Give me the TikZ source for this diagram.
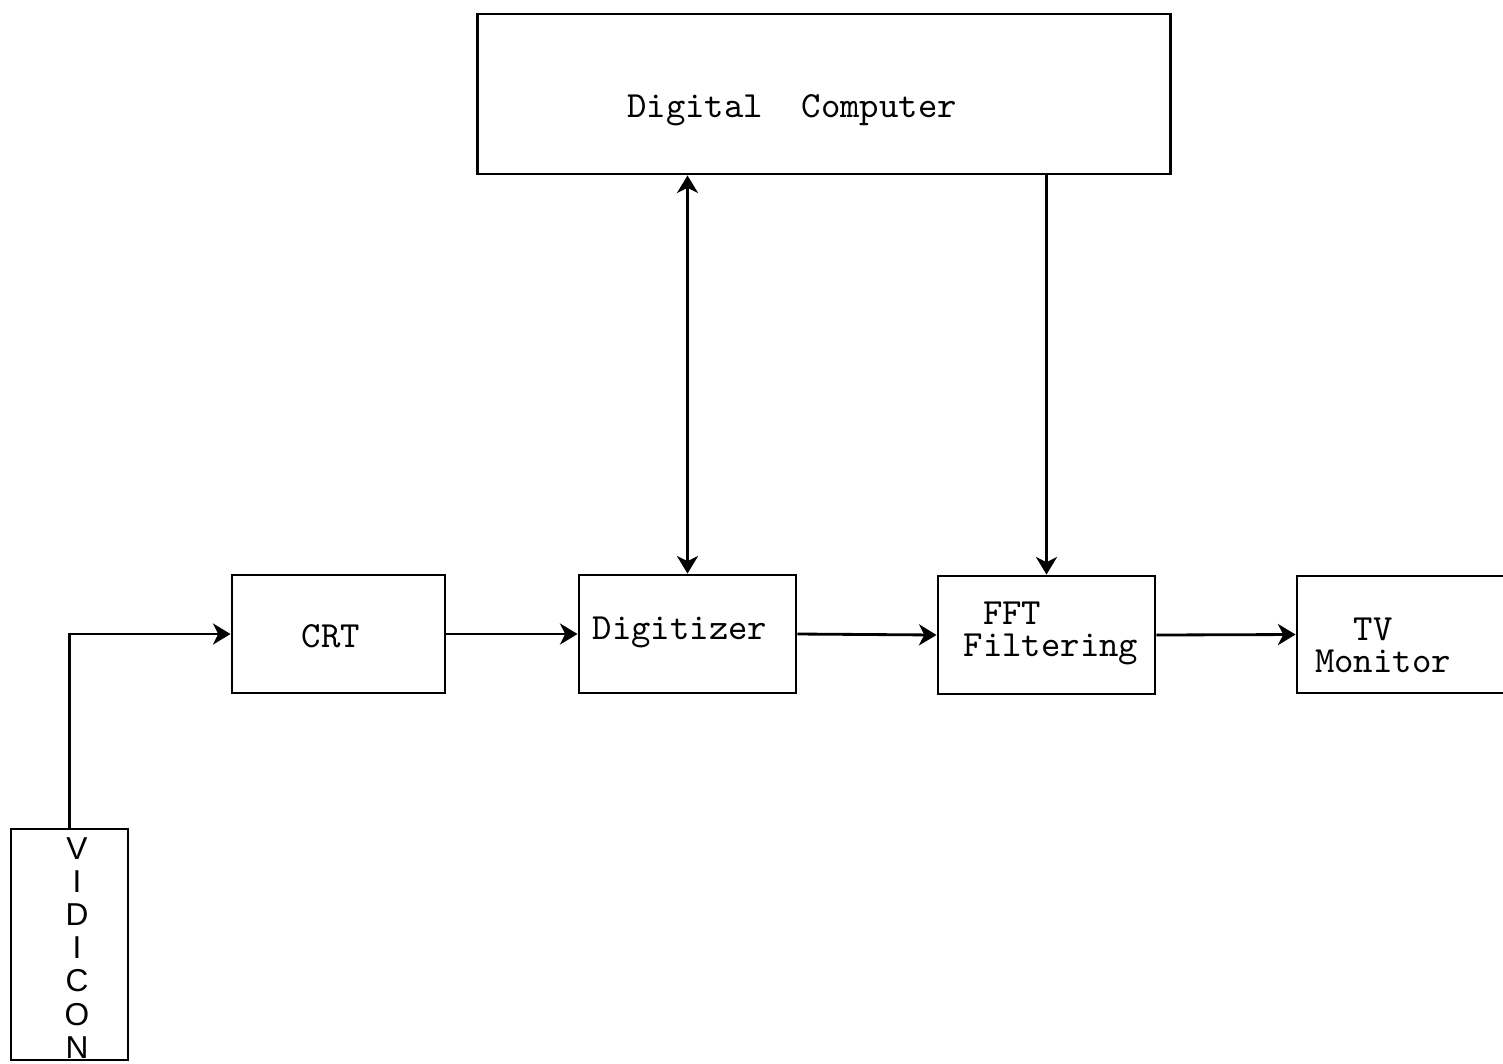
\documentclass[tikz,border=0pt]{standalone}
\usepackage{fontspec}
\setsansfont{Liberation Sans}
\usetikzlibrary{arrows.meta}

\tikzset{
  blk/.style={draw,line width=.8pt,inner sep=0pt},
  lbl/.style={font=\ttfamily\fontsize{10.5}{9.1}\selectfont,align=left,inner sep=0pt},
  conn/.style={line width=.8pt}
}

\begin{document}
\begin{tikzpicture}[x=0.01cm,y=-0.01cm,
    >={Stealth[length=5pt,width=6pt,inset=1.5pt]}]
  \useasboundingbox (0,0) rectangle (1503,1063);
  % boxes
  \node[blk,minimum width=6.92cm,minimum height=1.60cm] (dc) at (824,94) {};
  \node[blk,minimum width=2.13cm,minimum height=1.18cm] (crt) at (338.5,634) {};
  \node[blk,minimum width=2.17cm,minimum height=1.18cm] (dig) at (687.5,634) {};
  \node[blk,minimum width=2.17cm,minimum height=1.18cm] (fft) at (1046.5,635) {};
  \node[blk,minimum width=2.13cm,minimum height=1.17cm] (tv) at (1403.5,634.5) {};
  \node[blk,minimum width=1.17cm,minimum height=2.31cm] (vid) at (69.5,944.5) {};
  % texts
  \node[lbl] (dctxt) at (792,110) {Digital\ \ Computer};
  \node[lbl] (crttxt) at (331,636) {CRT};
  \node[lbl] (digtxt) at (680,632) {Digitizer};
  \node[lbl] (ffttxt) at (1051,633) {~FFT\\Filtering};
  \node[lbl] (tvtxt) at (1383,645) {~~TV\\Monitor};
  \node[font=\sffamily\fontsize{9}{9.4}\selectfont,align=center,inner sep=0pt]
    (vidtxt) at (77,948) {V\\I\\D\\I\\C\\O\\N};
  % connectors
  \draw[conn,->] (vid.north) |- (crt.west);
  \draw[conn,->] (crt.east) -- (dig.west);
  \draw[conn,->] (dig.east) -- (fft.west);
  \draw[conn,->] (fft.east) -- (tv.west);
  \draw[conn,<->] (dig.north |- dc.south) -- (dig.north);
  \draw[conn,->] (fft.north |- dc.south) -- (fft.north);
\end{tikzpicture}
\end{document}
